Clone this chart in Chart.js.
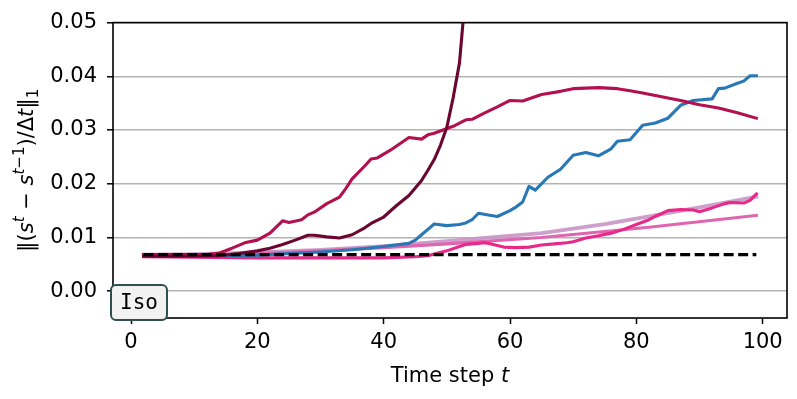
<!DOCTYPE html>
<html><head><meta charset="utf-8">
<script src="https://cdn.jsdelivr.net/npm/chart.js@4"></script>
<style>html,body{margin:0;padding:0;background:#fff;}canvas{display:block;}</style>
</head><body>
<canvas id="c" width="797" height="399" style="width:797px;height:399px"></canvas>
<script>
// ---- data ----
const xTicks = [0, 20, 40, 60, 80, 100];
const yTicks = [0.00, 0.01, 0.02, 0.03, 0.04, 0.05];

const darkT = [2, 8, 14, 17, 20, 22, 24, 26, 28, 29, 31, 33, 35, 37, 38, 40, 42, 44, 46, 47, 48, 49, 50, 51, 52, 53, 54];
const darkV = [0.0065, 0.0065, 0.0066, 0.0070, 0.0075, 0.0080, 0.0087, 0.0095, 0.0104, 0.0104, 0.0101, 0.0099, 0.0105, 0.0118, 0.0126, 0.0138, 0.0159, 0.0178, 0.0206, 0.0225, 0.0245, 0.0272, 0.0305, 0.0360, 0.0425, 0.0560, 0.0800];

const crimsonT = [2, 8, 12, 14, 16, 18, 20, 22, 24, 25, 27, 28, 29, 31, 33, 34, 35, 37, 38, 39, 41, 44, 46, 47, 48, 51, 53, 54, 56, 58, 60, 62, 65, 68, 70, 72, 74, 77, 79, 81, 84, 87, 90, 93, 96, 99];
const crimsonV = [0.0068, 0.0068, 0.0068, 0.0071, 0.0080, 0.0090, 0.0095, 0.0108, 0.0131, 0.0128, 0.0133, 0.0142, 0.0147, 0.0163, 0.0175, 0.0191, 0.0209, 0.0233, 0.0246, 0.0248, 0.0262, 0.0286, 0.0283, 0.0291, 0.0294, 0.0307, 0.0319, 0.0320, 0.0332, 0.0343, 0.0355, 0.0354, 0.0366, 0.0372, 0.0377, 0.0378, 0.0379, 0.0377, 0.0373, 0.0369, 0.0362, 0.0355, 0.0347, 0.0341, 0.0332, 0.0322];

const blueT = [2, 10, 16, 20, 30, 35, 40, 44, 45, 46, 47, 48, 50, 52, 53, 54, 55, 57, 58, 60, 61, 62, 63, 64, 66, 68, 70, 72, 74, 76, 77, 79, 81, 83, 85, 87, 89, 92, 93, 94, 96, 97, 98, 99];
const blueV = [0.0065, 0.0065, 0.0066, 0.0067, 0.0073, 0.0077, 0.0083, 0.0089, 0.0095, 0.0105, 0.0115, 0.0125, 0.0122, 0.0124, 0.0127, 0.0133, 0.0145, 0.0141, 0.0139, 0.0150, 0.0157, 0.0166, 0.0195, 0.0188, 0.0212, 0.0227, 0.0253, 0.0258, 0.0252, 0.0265, 0.0279, 0.0282, 0.0309, 0.0313, 0.0322, 0.0346, 0.0355, 0.0358, 0.0377, 0.0378, 0.0387, 0.0391, 0.0401, 0.0401];

const lilacT = [2, 10, 20, 30, 40, 50, 57, 65, 75, 82, 90, 99];
const lilacV = [0.0068, 0.0069, 0.0072, 0.0077, 0.0084, 0.0093, 0.0100, 0.0108, 0.0125, 0.0139, 0.0156, 0.0176];

const pinkT = [2, 10, 20, 30, 40, 50, 65, 82, 99];
const pinkV = [0.0066, 0.0067, 0.0070, 0.0075, 0.0081, 0.0088, 0.0100, 0.0119, 0.0141];

const hotT = [2, 10, 20, 30, 40, 45, 47, 48, 50, 52, 53, 55, 56, 57, 59, 61, 63, 65, 67, 69, 70, 72, 74, 76, 78, 80, 82, 83, 85, 87, 89, 90, 92, 94, 95, 97, 98, 99];
const hotV = [0.0064, 0.0063, 0.0062, 0.0062, 0.0062, 0.0064, 0.0066, 0.0069, 0.0075, 0.0083, 0.0087, 0.0089, 0.0090, 0.0088, 0.0082, 0.0081, 0.0082, 0.0086, 0.0088, 0.0090, 0.0092, 0.0099, 0.0103, 0.0108, 0.0115, 0.0124, 0.0133, 0.0139, 0.0150, 0.0152, 0.0151, 0.0148, 0.0155, 0.0163, 0.0165, 0.0164, 0.0169, 0.0181];

const refT = [2, 99];
const refV = [0.0068, 0.0068];

const xLabel = 'Time step ';
const xLabelItalic = 't';
const boxLabel = 'Iso';

// ---- helpers ----
function pts(t, v) { return t.map((x, i) => ({ x: x, y: v[i] })); }
const FS = 21;
const FONT = 'DejaVu Sans';
const LW = 3.1;

function line(data, color, width, order, extra) {
  return Object.assign({
    data: data, borderColor: color, borderWidth: width, pointRadius: 0,
    tension: 0, fill: false, order: order, clip: 0,
    borderJoinStyle: 'round', borderCapStyle: 'square'
  }, extra || {});
}

const framePlugin = {
  id: 'frame',
  afterDatasetsDraw(chart) {
    const { ctx, chartArea: a } = chart;
    ctx.save();
    ctx.strokeStyle = '#000';
    ctx.lineWidth = 1.6;
    ctx.strokeRect(a.left, a.top, a.right - a.left, a.bottom - a.top);
    ctx.restore();
  },
  afterDraw(chart) {
    const { ctx, chartArea: a } = chart;
    ctx.save();
    // Iso box
    const bx = a.left - 2, by = a.bottom - 33, bw = 56, bh = 35;
    ctx.beginPath();
    ctx.roundRect(bx, by, bw, bh, 5);
    ctx.fillStyle = '#f2f2f2';
    ctx.fill();
    ctx.lineWidth = 2;
    ctx.strokeStyle = '#2f4f4f';
    ctx.stroke();
    ctx.fillStyle = '#000';
    ctx.font = FS + 'px "DejaVu Sans Mono"';
    ctx.textAlign = 'center';
    ctx.textBaseline = 'middle';
    ctx.fillText(boxLabel, bx + bw / 2, by + bh / 2 + 1);

    // x title
    ctx.textAlign = 'left';
    ctx.textBaseline = 'alphabetic';
    const nf = FS + 'px "' + FONT + '"';
    const itf = 'italic ' + FS + 'px "' + FONT + '"';
    ctx.font = nf; const w1 = ctx.measureText(xLabel).width;
    ctx.font = itf; const w2 = ctx.measureText(xLabelItalic).width;
    let x0 = (a.left + a.right) / 2 - (w1 + w2) / 2;
    ctx.font = nf; ctx.fillText(xLabel, x0, 382);
    ctx.font = itf; ctx.fillText(xLabelItalic, x0 + w1, 382);

    // y title (math-like)
    const S = Math.round(FS * 0.7);
    const sf = S + 'px "' + FONT + '"';
    const sif = 'italic ' + S + 'px "' + FONT + '"';
    const runs = [
      { t: '\u2016(', f: nf, dy: 0 },
      { t: 's', f: itf, dy: 0 },
      { t: 't', f: sif, dy: -0.42 * FS },
      { t: ' \u2212 ', f: nf, dy: 0 },
      { t: 's', f: itf, dy: 0 },
      { t: 't', f: sif, dy: -0.42 * FS },
      { t: '\u22121', f: sf, dy: -0.42 * FS },
      { t: ')/\u0394', f: nf, dy: 0 },
      { t: 't', f: itf, dy: 0 },
      { t: '\u2016', f: nf, dy: 0 },
      { t: '1', f: sf, dy: 0.22 * FS }
    ];
    let total = 0;
    runs.forEach(r => { ctx.font = r.f; r.w = ctx.measureText(r.t).width; total += r.w; });
    ctx.translate(33, (a.top + a.bottom) / 2);
    ctx.rotate(-Math.PI / 2);
    let cx = -total / 2;
    runs.forEach(r => { ctx.font = r.f; ctx.fillText(r.t, cx, r.dy); cx += r.w; });
    ctx.restore();
  }
};

new Chart(document.getElementById('c'), {
  type: 'line',
  data: {
    datasets: [
      line(pts(refT, refV), '#000000', LW, 0, { borderDash: [10, 4.5], borderCapStyle: 'butt' }),
      line(pts(darkT, darkV), '#6a0630', LW, 1),
      line(pts(crimsonT, crimsonV), '#b3104f', LW, 2),
      line(pts(blueT, blueV), '#2878b5', LW, 3),
      line(pts(hotT, hotV), '#e7298a', LW, 4),
      line(pts(pinkT, pinkV), '#df65b0', LW, 5),
      line(pts(lilacT, lilacV), 'rgba(201,148,199,0.9)', 3.8, 6)
    ]
  },
  options: {
    responsive: false,
    animation: false,
    devicePixelRatio: 1,
    layout: { padding: { top: 17, right: 10, left: 0, bottom: 0 } },
    plugins: { legend: { display: false }, tooltip: { enabled: false } },
    scales: {
      x: {
        type: 'linear', min: -2.85, max: 103.85,
        afterBuildTicks: s => { s.ticks = xTicks.map(v => ({ value: v })); },
        afterFit: s => { s.height = 81; },
        border: { display: false },
        grid: { drawOnChartArea: false, drawTicks: true, tickLength: 6, tickColor: '#000', tickWidth: 1.5 },
        ticks: { color: '#000', font: { family: FONT, size: FS }, padding: 6, maxRotation: 0, autoSkip: false,
                 callback: v => String(v) }
      },
      y: {
        type: 'linear', min: -0.005, max: 0.05,
        afterBuildTicks: s => { s.ticks = yTicks.map(v => ({ value: v })); },
        afterFit: s => { s.width = 113; },
        border: { display: false },
        grid: { color: '#b3b3b3', lineWidth: 1.6, drawTicks: true, tickLength: 6, tickColor: '#000', tickWidth: 1.5 },
        ticks: { color: '#000', font: { family: FONT, size: FS }, padding: 10, autoSkip: false,
                 callback: v => Number(v).toFixed(2) }
      }
    }
  },
  plugins: [framePlugin]
});
</script>
</body></html>
